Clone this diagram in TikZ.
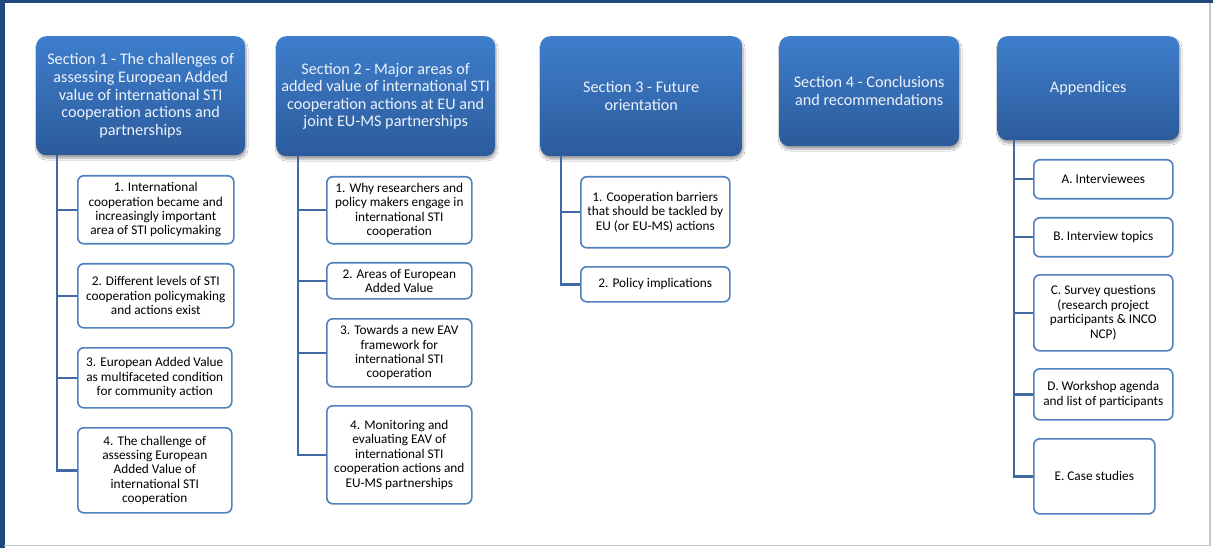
\documentclass[tikz,border=0pt]{standalone}
\usepackage{fontspec}
\setmainfont{Carlito}
\usetikzlibrary{shadows.blur,calc}

\definecolor{hdrTop}{RGB}{62,126,204}
\definecolor{hdrBot}{RGB}{44,91,155}
\definecolor{hdrText}{RGB}{236,242,250}
\definecolor{kidLine}{RGB}{79,129,189}
\definecolor{connLine}{RGB}{66,106,162}
\definecolor{frameDark}{RGB}{31,73,125}
\definecolor{frameLight}{RGB}{190,200,212}

\tikzset{
  header/.style={rounded corners=10pt, top color=hdrTop, bottom color=hdrBot,
    text=hdrText, align=center, inner sep=0pt, anchor=north west,
    font=\fontsize{16.2}{17.6}\selectfont,
    blur shadow={shadow xshift=1pt, shadow yshift=-3pt, shadow blur steps=8, shadow opacity=35}},
  kid/.style={draw=kidLine, line width=1.6pt, rounded corners=6pt, fill=white,
    align=center, inner sep=0pt, anchor=north west,
    font=\fontsize{13.3}{14.4}\selectfont},
  conn/.style={draw=connLine, line width=2.4pt}
}

\begin{document}
\begin{tikzpicture}[x=1pt, y=-1pt]
\useasboundingbox (0,0) rectangle (1213,548);
\fill[white] (0,0) rectangle (1213,548);
% page frame
\fill[frameDark] (0,0) rectangle (1213,3.5);
\fill[frameDark] (0,0) rectangle (4.5,548);
\draw[frameLight, line width=1.2pt] (1210,3) -- (1210,546);
\draw[frameLight, line width=1.2pt] (4,545.5) -- (1210,545.5);

% section headers
\node[header, minimum width=209pt, minimum height=119pt] (h1) at (36,36)
  {Section 1 - The challenges of\\assessing European Added\\value of international STI\\cooperation actions and\\partnerships};
\node[header, minimum width=219pt, minimum height=120pt] (h2) at (276,36)
  {Section 2 - Major areas of\\added value of international STI\\cooperation actions at EU and\\joint EU-MS partnerships};
\node[header, minimum width=202pt, minimum height=120pt] (h3) at (540,36)
  {Section 3 - Future\\orientation};
\node[header, minimum width=180pt, minimum height=110pt] (h4) at (779,36)
  {Section 4 - Conclusions\\and recommendations};
\node[header, minimum width=182pt, minimum height=104pt] (h5) at (997,36)
  {Appendices};

% section 1 items
\node[kid, minimum width=156pt, minimum height=68pt] (a1) at (77,175)
  {1. International\\cooperation became and\\increasingly important\\area of STI policymaking};
\node[kid, minimum width=156pt, minimum height=64pt] (a2) at (77,263)
  {2. Different levels of STI\\cooperation policymaking\\and actions exist};
\node[kid, minimum width=154pt, minimum height=60pt] (a3) at (77,347)
  {3. European Added Value\\as multifaceted condition\\for community action};
\node[kid, minimum width=154pt, minimum height=85pt] (a4) at (77,427)
  {4. The challenge of\\assessing European\\Added Value of\\international STI\\cooperation};

% section 2 items
\node[kid, minimum width=145pt, minimum height=67pt] (b1) at (326,176)
  {1. Why researchers and\\policy makers engage in\\international STI\\cooperation};
\node[kid, minimum width=145pt, minimum height=36pt] (b2) at (326,262)
  {2. Areas of European\\Added Value};
\node[kid, minimum width=145pt, minimum height=68pt] (b3) at (326,318)
  {3. Towards a new EAV\\framework for\\international STI\\cooperation};
\node[kid, minimum width=145pt, minimum height=98pt] (b4) at (326,405)
  {4. Monitoring and\\evaluating EAV of\\international STI\\cooperation actions and\\EU-MS partnerships};

% section 3 items
\node[kid, minimum width=149pt, minimum height=71pt] (c1) at (580,176)
  {1. Cooperation barriers\\that should be tackled by\\EU (or EU-MS) actions};
\node[kid, minimum width=149pt, minimum height=35pt] (c2) at (580,266)
  {2. Policy implications};

% appendices
\node[kid, minimum width=139pt, minimum height=39pt] (d1) at (1033,159) {A. Interviewees};
\node[kid, minimum width=139pt, minimum height=39pt] (d2) at (1033,217) {B. Interview topics};
\node[kid, minimum width=139pt, minimum height=76pt] (d3) at (1033,274)
  {C. Survey questions\\(research project\\participants \& INCO\\NCP)};
\node[kid, minimum width=139pt, minimum height=51pt] (d4) at (1033,368)
  {D. Workshop agenda\\and list of participants};
\node[kid, minimum width=121pt, minimum height=75pt] (d5) at (1033,438) {E. Case studies};

% tree connectors
\coordinate (s1) at ([xshift=21pt]h1.south west);
\coordinate (s2) at ([xshift=22pt]h2.south west);
\coordinate (s3) at ([xshift=21pt]h3.south west);
\coordinate (s5) at ([xshift=17pt]h5.south west);

\draw[conn] (s1) |- (a4.west);
\foreach \n in {a1,a2,a3} \draw[conn] (s1 |- \n.west) -- (\n.west);
\draw[conn] (s2) |- (b4.west);
\foreach \n in {b1,b2,b3} \draw[conn] (s2 |- \n.west) -- (\n.west);
\draw[conn] (s3) |- (c2.west);
\draw[conn] (s3 |- c1.west) -- (c1.west);
\draw[conn] (s5) |- (d5.west);
\foreach \n in {d1,d2,d3,d4} \draw[conn] (s5 |- \n.west) -- (\n.west);
\end{tikzpicture}
\end{document}
